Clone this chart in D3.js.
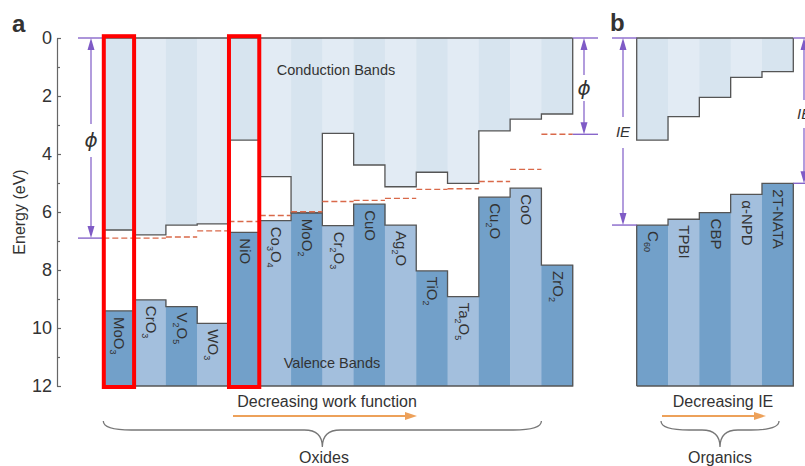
<!DOCTYPE html>
<html>
<head>
<meta charset="utf-8">
<script src="https://cdn.jsdelivr.net/npm/d3@7"></script>
<style>
  body { margin: 0; background: #fff; }
  text { font-family: "Liberation Sans", Arial, sans-serif; fill: #333; }
</style>
</head>
<body>
<svg id="vis" width="805" height="466"></svg>
<script>
// ---- data (energies in eV below vacuum) ----
var oxides   = ["MoO3", "CrO3", "V2O5", "WO3", "NiO", "Co3O4", "MoO2", "Cr2O3",
                "CuO", "Ag2O", "TiO2", "Ta2O5", "Cu2O", "CoO", "ZrO2"];
var oxideCB  = [6.62, 6.79, 6.45, 6.41, 3.52, 4.78, 6.03, 3.29, 4.38, 5.13, 4.63, 5.01, 3.20, 2.80, 2.62];
var oxideVB  = [9.41, 9.03, 9.26, 9.84, 6.70, 6.30, 6.03, 6.47, 5.73, 6.45, 8.03, 8.92, 5.49, 5.18, 7.83];
var oxideWF  = [6.90, 6.90, 6.86, 6.65, 6.33, 6.12, 5.99, 5.64, 5.60, 5.53, 5.22, 5.20, 4.95, 4.53, 3.32];

var organics = ["C60", "TPBI", "CBP", "α-NPD", "2T-NATA"];
var orgLUMO  = [3.52, 2.71, 2.05, 1.36, 1.16];
var orgHOMO  = [6.45, 6.25, 6.02, 5.39, 5.01];

var majorTicks = [0, 2, 4, 6, 8, 10, 12];
var minorTicks = [1, 3, 5, 7, 9, 11];
var highlighted = ["MoO3", "NiO"];

// ---- colours ----
var cbFill   = ["#d7e4ef", "#e2ebf4"];
var vbFill   = ["#72a0c9", "#a3bfdd"];
var outline  = "#555";
var purple   = "#7f5bc6";
var fermiCol = "#d9694a";
var orange   = "#eda15a";

var svg = d3.select("#vis");

var y = d3.scaleLinear().domain([0, 12]).range([38, 386]);
var xOx  = d3.scaleBand().domain(oxides).range([103.3, 572.7]);
var xOrg = d3.scaleBand().domain(organics).range([636.7, 793.3]);

// ---- axis ----
var axisX = 57;
var gAxis = svg.append("g").attr("transform", "translate(" + axisX + ",0)");
gAxis.call(d3.axisLeft(y).tickValues(majorTicks).tickSizeInner(-4).tickSizeOuter(0).tickPadding(5));
gAxis.append("g").call(d3.axisLeft(y).tickValues(minorTicks).tickSizeInner(-3).tickSizeOuter(0).tickFormat(""))
  .select(".domain").remove();
gAxis.selectAll("path, line").attr("stroke", "#666").attr("stroke-width", 1.2);
gAxis.selectAll("text").attr("font-size", 18).attr("fill", "#3a3a3a")
  .style("font-family", "'Liberation Sans', Arial, sans-serif");

svg.append("text")
  .attr("transform", "translate(25," + y(6) + ") rotate(-90)")
  .attr("text-anchor", "middle")
  .style("font-size", "16px")
  .attr("fill", "#3a3a3a")
  .text("Energy (eV)");

// ---- generic band panel ----
function bandPanel(names, x, cb, vb) {
  var g = svg.append("g");
  var bw = x.bandwidth();
  var x0 = x.range()[0], x1 = x.range()[1];

  // conduction band columns
  g.selectAll(".cb").data(names).enter().append("rect")
    .attr("x", function(d) { return x(d); })
    .attr("y", y(0))
    .attr("width", bw + 0.5)
    .attr("height", function(d, i) { return y(cb[i]) - y(0); })
    .attr("fill", function(d, i) { return cbFill[i % 2]; });

  // valence band columns
  g.selectAll(".vb").data(names).enter().append("rect")
    .attr("x", function(d) { return x(d); })
    .attr("y", function(d, i) { return y(vb[i]); })
    .attr("width", bw + 0.5)
    .attr("height", function(d, i) { return y(12) - y(vb[i]); })
    .attr("fill", function(d, i) { return vbFill[i % 2]; });

  var line = d3.line();

  // outline of conduction band block
  var cbPts = [[x1, y(0)], [x0, y(0)]];
  names.forEach(function(d, i) {
    cbPts.push([x(d), y(cb[i])], [x(d) + bw, y(cb[i])]);
  });
  cbPts.push([x1, y(0)]);
  g.append("path").attr("d", line(cbPts))
    .attr("fill", "none").attr("stroke", outline).attr("stroke-width", 1.3);

  // outline of valence band block
  var vbPts = [[x0, y(12)]];
  names.forEach(function(d, i) {
    vbPts.push([x(d), y(vb[i])], [x(d) + bw, y(vb[i])]);
  });
  vbPts.push([x1, y(12)], [x0, y(12)]);
  g.append("path").attr("d", line(vbPts))
    .attr("fill", "none").attr("stroke", outline).attr("stroke-width", 1.3);

  // rotated labels with subscripts
  names.forEach(function(d, i) {
    var t = g.append("text")
      .attr("transform", "translate(" + (x(d) + bw / 2) + "," + (y(vb[i]) + 6) + ") rotate(90)")
      .attr("y", 4.5)
      .attr("font-size", 15)
      .attr("fill", "#333");
    var parts = d.match(/\d+|\D+/g);
    var shifted = false;
    parts.forEach(function(p, k) {
      var sub = /^\d+$/.test(p) && k > 0;
      var ts = t.append("tspan").text(p);
      if (sub) { ts.attr("font-size", 9).attr("dy", 4); shifted = true; }
      else if (shifted) { ts.attr("dy", -4); shifted = false; }
    });
  });
  return g;
}

var gA = bandPanel(oxides, xOx, oxideCB, oxideVB);
var gB = bandPanel(organics, xOrg, orgLUMO, orgHOMO);

// Fermi levels (dashed)
gA.selectAll(".wf").data(oxides).enter().append("line")
  .attr("x1", function(d) { return xOx(d); })
  .attr("x2", function(d) { return xOx(d) + xOx.bandwidth(); })
  .attr("y1", function(d, i) { return y(oxideWF[i]); })
  .attr("y2", function(d, i) { return y(oxideWF[i]); })
  .attr("stroke", fermiCol).attr("stroke-width", 1.4)
  .attr("stroke-dasharray", "6,3");

// band names inside panel a
svg.append("text").attr("x", 336).attr("y", 75).attr("text-anchor", "middle")
  .attr("font-size", 14.5).text("Conduction Bands");
svg.append("text").attr("x", 332).attr("y", 368).attr("text-anchor", "middle")
  .attr("font-size", 14.5).text("Valence Bands");

// ---- purple energy arrows ----
function vArrow(xp, e1, e2, gapA, gapB) {
  var ya = y(e1), yb = y(e2);
  svg.append("line").attr("x1", xp).attr("x2", xp).attr("y1", ya + 6).attr("y2", gapA)
    .attr("stroke", purple).attr("stroke-width", 1.2);
  svg.append("line").attr("x1", xp).attr("x2", xp).attr("y1", gapB).attr("y2", yb - 6)
    .attr("stroke", purple).attr("stroke-width", 1.2);
  svg.append("path")
    .attr("d", "M" + xp + "," + ya + "L" + (xp - 3.5) + "," + (ya + 12) + "L" + (xp + 3.5) + "," + (ya + 12) + "Z")
    .attr("fill", purple);
  svg.append("path")
    .attr("d", "M" + xp + "," + yb + "L" + (xp - 3.5) + "," + (yb - 12) + "L" + (xp + 3.5) + "," + (yb - 12) + "Z")
    .attr("fill", purple);
}
function hLine(xa, xb, e) {
  svg.append("line").attr("x1", xa).attr("x2", xb).attr("y1", y(e)).attr("y2", y(e))
    .attr("stroke", purple).attr("stroke-width", 1.3);
}
function phi(xp, yy) {
  svg.append("text").attr("x", xp).attr("y", yy).attr("text-anchor", "middle")
    .style("font-family", "'DejaVu Sans', sans-serif")
    .attr("font-size", 20).attr("font-style", "italic").attr("fill", "#222").text("ϕ");
}

// left phi (MoO3)
hLine(78, xOx.range()[0], 0);
hLine(78, xOx.range()[0], oxideWF[0]);
vArrow(91, 0, oxideWF[0], 124, 157);
phi(91, 147);

// right phi (ZrO2)
hLine(xOx.range()[1], 598, 0);
hLine(xOx.range()[1], 598, oxideWF[oxideWF.length - 1]);
vArrow(584, 0, oxideWF[oxideWF.length - 1], 75, 101);
phi(584, 95);

// left IE (C60)
hLine(612, xOrg.range()[0], 0);
hLine(612, xOrg.range()[0], orgHOMO[0]);
vArrow(623, 0, orgHOMO[0], 117, 148);
svg.append("text").attr("x", 623).attr("y", 137).attr("text-anchor", "middle")
  .attr("font-size", 15).attr("font-style", "italic").text("IE");

// right IE (2T-NATA), mostly outside the frame as in the figure
hLine(xOrg.range()[1], 808, 0);
hLine(xOrg.range()[1], 808, orgHOMO[orgHOMO.length - 1]);
vArrow(804, 0, orgHOMO[orgHOMO.length - 1], 100, 128);
svg.append("text").attr("x", 797).attr("y", 119)
  .attr("font-size", 15).attr("font-style", "italic").text("IE");

// ---- highlight boxes ----
svg.selectAll(".hl").data(highlighted).enter().append("rect")
  .attr("x", function(d) { return xOx(d) + 0.5; })
  .attr("y", y(0) - 1.8)
  .attr("width", xOx.bandwidth() - 1)
  .attr("height", y(12) - y(0) + 2.8)
  .attr("fill", "none")
  .attr("stroke", "#f00")
  .attr("stroke-width", 4);

// ---- bottom annotations ----
function orangeArrow(xa, xb, yy) {
  svg.append("line").attr("x1", xa).attr("x2", xb - 10).attr("y1", yy).attr("y2", yy)
    .attr("stroke", orange).attr("stroke-width", 2.2);
  svg.append("path")
    .attr("d", "M" + xb + "," + yy + "L" + (xb - 12) + "," + (yy - 4) + "L" + (xb - 12) + "," + (yy + 4) + "Z")
    .attr("fill", orange);
}
function brace(xa, xb, yt) {
  var mid = (xa + xb) / 2, h = 9, tip = 26;
  var d = "M" + xa + "," + yt +
    "Q" + xa + "," + (yt + h) + " " + (xa + 28) + "," + (yt + h) +
    "L" + (mid - 18) + "," + (yt + h) +
    "Q" + mid + "," + (yt + h) + " " + mid + "," + (yt + tip) +
    "Q" + mid + "," + (yt + h) + " " + (mid + 18) + "," + (yt + h) +
    "L" + (xb - 28) + "," + (yt + h) +
    "Q" + xb + "," + (yt + h) + " " + xb + "," + yt;
  svg.append("path").attr("d", d).attr("fill", "none")
    .attr("stroke", "#777").attr("stroke-width", 1.3);
}

svg.append("text").attr("x", 327).attr("y", 407).attr("text-anchor", "middle")
  .attr("font-size", 16).text("Decreasing work function");
orangeArrow(233, 417, 416);
brace(xOx(oxides[0]), xOx(oxides[oxides.length - 1]), 421);
svg.append("text").attr("x", 324).attr("y", 463).attr("text-anchor", "middle")
  .attr("font-size", 16).text("Oxides");

svg.append("text").attr("x", 723).attr("y", 407).attr("text-anchor", "middle")
  .attr("font-size", 16).text("Decreasing IE");
orangeArrow(662, 766, 416);
brace(661, 779, 421);
svg.append("text").attr("x", 720).attr("y", 463).attr("text-anchor", "middle")
  .attr("font-size", 16).text("Organics");

// panel letters
svg.append("text").attr("x", 12).attr("y", 32).attr("font-size", 24)
  .attr("font-weight", "bold").attr("fill", "#222").text("a");
svg.append("text").attr("x", 610).attr("y", 31).attr("font-size", 24)
  .attr("font-weight", "bold").attr("fill", "#222").text("b");
</script>
</body>
</html>
